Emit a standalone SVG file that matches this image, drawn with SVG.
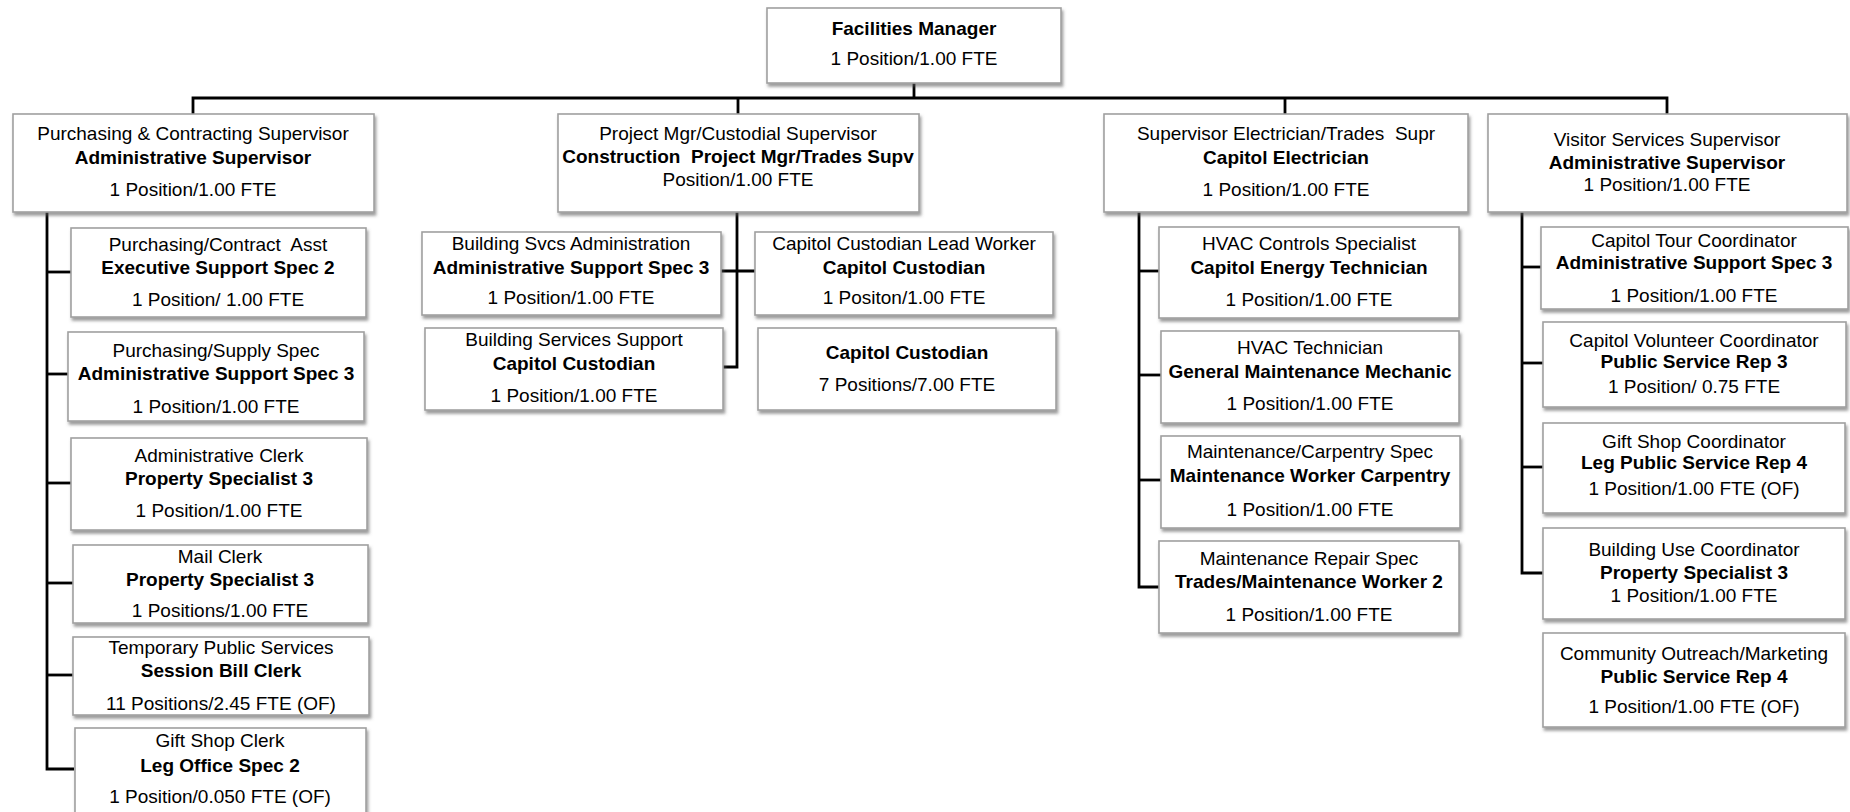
<svg xmlns="http://www.w3.org/2000/svg" width="1850" height="812" viewBox="0 0 1850 812">
  <defs>
    <filter id="shadow" x="-5%" y="-10%" width="115%" height="130%">
      <feDropShadow dx="1.5" dy="3" stdDeviation="1.8" flood-color="#5a5a5a" flood-opacity="0.6"/>
    </filter>
    <style>
      .box { fill: #ffffff; stroke: #a0a0a0; stroke-width: 1.6; filter: url(#shadow); }
      text { font-family: "Liberation Sans", Arial, sans-serif; font-size: 19px; fill: #000000; text-anchor: middle; }
      .b { font-weight: bold; }
      .pre { white-space: pre; }
      .conn { fill: none; stroke: #000000; stroke-width: 2.8; stroke-linejoin: miter; }
    </style>
  </defs>
  <rect x="0" y="0" width="1850" height="812" fill="#ffffff"/>

  <!-- connectors -->
  <g id="connectors" class="conn">
    <!-- manager to level one -->
    <path d="M914 83 V98"/>
    <path d="M193 114 V98 H1667 V114"/>
    <path d="M738 98 V114"/>
    <path d="M1285 98 V114"/>
    <!-- purchasing column -->
    <path d="M47 212 V769 H74"/>
    <path d="M47 272 H71"/>
    <path d="M47 374 H68"/>
    <path d="M47 483 H71"/>
    <path d="M47 583 H73"/>
    <path d="M47 675 H73"/>
    <!-- project / custodial -->
    <path d="M737 212 V367 H723"/>
    <path d="M721 271 H755"/>
    <!-- electrical column -->
    <path d="M1139 212 V587 H1159"/>
    <path d="M1139 271 H1159"/>
    <path d="M1139 375 H1161"/>
    <path d="M1139 480 H1161"/>
    <!-- visitor services column -->
    <path d="M1522 212 V573 H1543"/>
    <path d="M1522 267 H1541"/>
    <path d="M1522 363 H1543"/>
    <path d="M1522 467 H1543"/>
  </g>

  <!-- top -->
  <g id="facilities-manager">
    <rect class="box" x="767" y="8" width="294" height="75"/>
    <text class="b" x="914" y="35">Facilities Manager</text>
    <text x="914" y="65">1 Position/1.00 FTE</text>
  </g>

  <!-- level one -->
  <g id="purchasing-supervisor">
    <rect class="box" x="13" y="114" width="361" height="98"/>
    <text x="193" y="140">Purchasing &amp; Contracting Supervisor</text>
    <text class="b" x="193" y="164">Administrative Supervisor</text>
    <text x="193" y="196">1 Position/1.00 FTE</text>
  </g>
  <g id="project-custodial-supervisor">
    <rect class="box" x="558" y="114" width="361" height="98"/>
    <text x="738" y="140">Project Mgr/Custodial Supervisor</text>
    <text class="b pre" x="738" y="163">Construction  Project Mgr/Trades Supv</text>
    <text x="738" y="186">Position/1.00 FTE</text>
  </g>
  <g id="electrician-supervisor">
    <rect class="box" x="1104" y="114" width="364" height="98"/>
    <text class="pre" x="1286" y="140">Supervisor Electrician/Trades  Supr</text>
    <text class="b" x="1286" y="164">Capitol Electrician</text>
    <text x="1286" y="196">1 Position/1.00 FTE</text>
  </g>
  <g id="visitor-services-supervisor">
    <rect class="box" x="1488" y="114" width="359" height="98"/>
    <text x="1667" y="146">Visitor Services Supervisor</text>
    <text class="b" x="1667" y="169">Administrative Supervisor</text>
    <text x="1667" y="191">1 Position/1.00 FTE</text>
  </g>

  <!-- purchasing column -->
  <g id="purchasing-contract-asst">
    <rect class="box" x="71" y="228" width="295" height="89"/>
    <text class="pre" x="218" y="251">Purchasing/Contract  Asst</text>
    <text class="b" x="218" y="274">Executive Support Spec 2</text>
    <text x="218" y="306">1 Position/ 1.00 FTE</text>
  </g>
  <g id="purchasing-supply-spec">
    <rect class="box" x="68" y="332" width="296" height="89"/>
    <text x="216" y="357">Purchasing/Supply Spec</text>
    <text class="b" x="216" y="380">Administrative Support Spec 3</text>
    <text x="216" y="413">1 Position/1.00 FTE</text>
  </g>
  <g id="administrative-clerk">
    <rect class="box" x="71" y="438" width="296" height="92"/>
    <text x="219" y="462">Administrative Clerk</text>
    <text class="b" x="219" y="485">Property Specialist 3</text>
    <text x="219" y="517">1 Position/1.00 FTE</text>
  </g>
  <g id="mail-clerk">
    <rect class="box" x="73" y="545" width="295" height="78"/>
    <text x="220" y="563">Mail Clerk</text>
    <text class="b" x="220" y="586">Property Specialist 3</text>
    <text x="220" y="617">1 Positions/1.00 FTE</text>
  </g>
  <g id="temporary-public-services">
    <rect class="box" x="73" y="637" width="296" height="78"/>
    <text x="221" y="654">Temporary Public Services</text>
    <text class="b" x="221" y="677">Session Bill Clerk</text>
    <text x="221" y="710">11 Positions/2.45 FTE (OF)</text>
  </g>
  <g id="gift-shop-clerk">
    <rect class="box" x="75" y="728" width="291" height="92"/>
    <text x="220" y="747">Gift Shop Clerk</text>
    <text class="b" x="220" y="772">Leg Office Spec 2</text>
    <text x="220" y="803">1 Position/0.050 FTE (OF)</text>
  </g>

  <!-- project / custodial group -->
  <g id="building-svcs-administration">
    <rect class="box" x="422" y="232" width="299" height="83"/>
    <text x="571" y="250">Building Svcs Administration</text>
    <text class="b" x="571" y="274">Administrative Support Spec 3</text>
    <text x="571" y="304">1 Position/1.00 FTE</text>
  </g>
  <g id="custodian-lead-worker">
    <rect class="box" x="755" y="232" width="298" height="83"/>
    <text x="904" y="250">Capitol Custodian Lead Worker</text>
    <text class="b" x="904" y="274">Capitol Custodian</text>
    <text x="904" y="304">1 Positon/1.00 FTE</text>
  </g>
  <g id="building-services-support">
    <rect class="box" x="425" y="328" width="298" height="82"/>
    <text x="574" y="346">Building Services Support</text>
    <text class="b" x="574" y="370">Capitol Custodian</text>
    <text x="574" y="402">1 Position/1.00 FTE</text>
  </g>
  <g id="capitol-custodian">
    <rect class="box" x="758" y="328" width="298" height="82"/>
    <text class="b" x="907" y="359">Capitol Custodian</text>
    <text x="907" y="391">7 Positions/7.00 FTE</text>
  </g>

  <!-- electrical column -->
  <g id="hvac-controls-specialist">
    <rect class="box" x="1159" y="227" width="300" height="91"/>
    <text x="1309" y="250">HVAC Controls Specialist</text>
    <text class="b" x="1309" y="274">Capitol Energy Technician</text>
    <text x="1309" y="306">1 Position/1.00 FTE</text>
  </g>
  <g id="hvac-technician">
    <rect class="box" x="1161" y="331" width="298" height="92"/>
    <text x="1310" y="354">HVAC Technician</text>
    <text class="b" x="1310" y="378">General Maintenance Mechanic</text>
    <text x="1310" y="410">1 Position/1.00 FTE</text>
  </g>
  <g id="maintenance-carpentry-spec">
    <rect class="box" x="1161" y="436" width="299" height="92"/>
    <text x="1310" y="458">Maintenance/Carpentry Spec</text>
    <text class="b" x="1310" y="482">Maintenance Worker Carpentry</text>
    <text x="1310" y="516">1 Position/1.00 FTE</text>
  </g>
  <g id="maintenance-repair-spec">
    <rect class="box" x="1159" y="541" width="300" height="92"/>
    <text x="1309" y="565">Maintenance Repair Spec</text>
    <text class="b" x="1309" y="588">Trades/Maintenance Worker 2</text>
    <text x="1309" y="621">1 Position/1.00 FTE</text>
  </g>

  <!-- visitor services column -->
  <g id="capitol-tour-coordinator">
    <rect class="box" x="1541" y="227" width="307" height="82"/>
    <text x="1694" y="247">Capitol Tour Coordinator</text>
    <text class="b" x="1694" y="269">Administrative Support Spec 3</text>
    <text x="1694" y="302">1 Position/1.00 FTE</text>
  </g>
  <g id="capitol-volunteer-coordinator">
    <rect class="box" x="1543" y="322" width="303" height="85"/>
    <text x="1694" y="347">Capitol Volunteer Coordinator</text>
    <text class="b" x="1694" y="368">Public Service Rep 3</text>
    <text x="1694" y="393">1 Position/ 0.75 FTE</text>
  </g>
  <g id="gift-shop-coordinator">
    <rect class="box" x="1543" y="423" width="302" height="90"/>
    <text x="1694" y="448">Gift Shop Coordinator</text>
    <text class="b" x="1694" y="469">Leg Public Service Rep 4</text>
    <text x="1694" y="495">1 Position/1.00 FTE (OF)</text>
  </g>
  <g id="building-use-coordinator">
    <rect class="box" x="1543" y="528" width="302" height="91"/>
    <text x="1694" y="556">Building Use Coordinator</text>
    <text class="b" x="1694" y="579">Property Specialist 3</text>
    <text x="1694" y="602">1 Position/1.00 FTE</text>
  </g>
  <g id="community-outreach-marketing">
    <rect class="box" x="1543" y="633" width="302" height="94"/>
    <text x="1694" y="660">Community Outreach/Marketing</text>
    <text class="b" x="1694" y="683">Public Service Rep 4</text>
    <text x="1694" y="713">1 Position/1.00 FTE (OF)</text>
  </g>
</svg>
